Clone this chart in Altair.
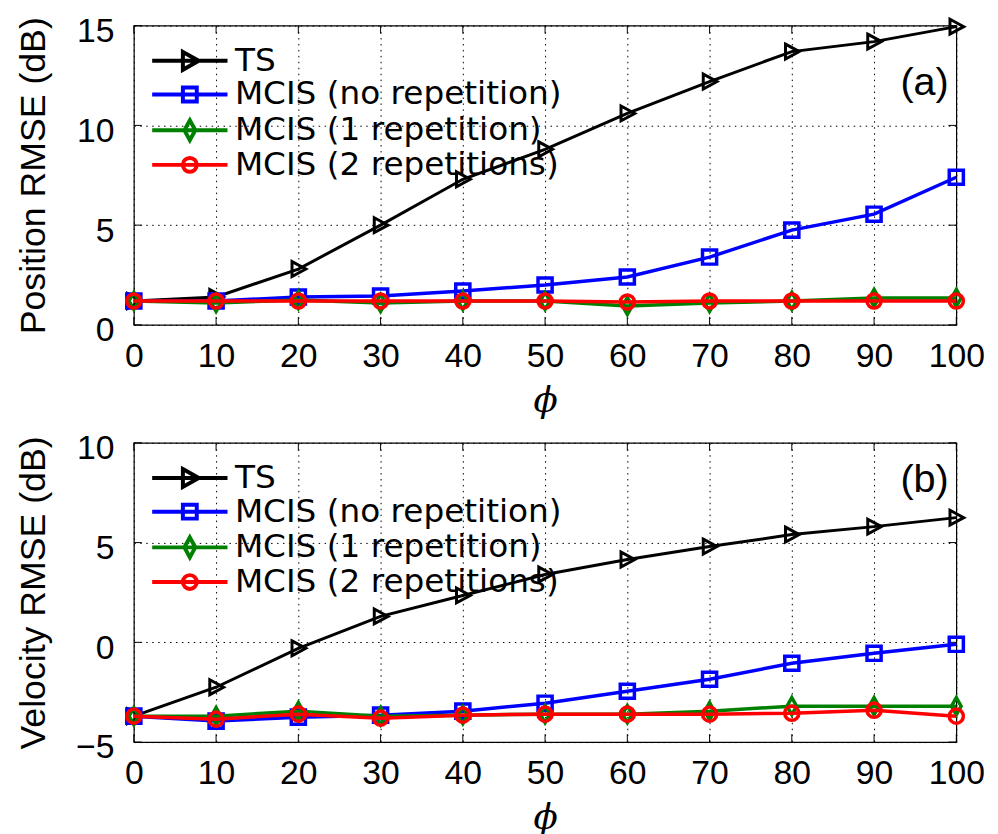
import altair as alt
import pandas as pd

# ---------------- data ----------------
phi = [0, 10, 20, 30, 40, 50, 60, 70, 80, 90, 100]
series = ["TS", "MCIS (no repetition)", "MCIS (1 repetition)", "MCIS (2 repetitions)"]
colors = ["#000000", "#0000ff", "#008000", "#ff0000"]

pos_ts = [1.2, 1.4, 2.8, 5.0, 7.3, 8.8, 10.6, 12.2, 13.7, 14.2, 14.95]
pos_no = [1.2, 1.2, 1.4, 1.45, 1.7, 2.0, 2.4, 3.4, 4.75, 5.55, 7.4]
pos_1 = [1.2, 1.1, 1.25, 1.1, 1.2, 1.2, 0.95, 1.1, 1.2, 1.35, 1.35]
pos_2 = [1.2, 1.2, 1.2, 1.2, 1.2, 1.2, 1.15, 1.2, 1.2, 1.2, 1.2]

vel_ts = [-3.7, -2.25, -0.3, 1.3, 2.35, 3.4, 4.15, 4.8, 5.4, 5.8, 6.25]
vel_no = [-3.7, -3.95, -3.75, -3.65, -3.45, -3.05, -2.45, -1.85, -1.05, -0.55, -0.1]
vel_1 = [-3.7, -3.7, -3.45, -3.7, -3.65, -3.6, -3.6, -3.45, -3.2, -3.2, -3.2]
vel_2 = [-3.7, -3.85, -3.6, -3.8, -3.65, -3.6, -3.6, -3.6, -3.55, -3.4, -3.7]

pos_yticks = [0, 5, 10, 15]
vel_yticks = [-5, 0, 5, 10]

# ---------------- styles ----------------
FONT = "Liberation Sans"
LEG_FONT = "DejaVu Sans"
W, H = 830, 302
marker_paths = [
    "M-0.85,-1L1,0L-0.85,1Z",
    "M-0.95,-0.95H0.95V0.95H-0.95Z",
    "M0,-1.15L0.65,0L0,1.15L-0.65,0Z",
    "M0.95,0A0.95,0.95,0,1,1,-0.95,0A0.95,0.95,0,1,1,0.95,0Z",
]
legend_paths = [
    "M-3.8,0H3.8M-0.7,-0.9L0.9,0L-0.7,0.9Z",
    "M-3.8,0H3.8M-0.7,-0.7H0.7V0.7H-0.7Z",
    "M-3.8,0H3.8M0,-1L0.55,0L0,1L-0.55,0Z",
    "M-3.8,0H3.8M0.7,0A0.7,0.7,0,1,1,-0.7,0A0.7,0.7,0,1,1,0.7,0Z",
]
line_widths = [3, 3.5, 3.5, 3.5]


def panel(values, ydom, yticks, ytitle, tag, tag_y, leg_y):
    df = pd.DataFrame({
        "phi": phi * len(series),
        "val": [v for vals in values for v in vals],
        "series": [s for s in series for _ in phi],
    })
    X = alt.X("phi:Q", scale=alt.Scale(domain=[0, 100], nice=False, zero=False),
              axis=alt.Axis(values=phi, title="ϕ", titleFont="DejaVu Serif",
                            titleFontStyle="italic", titleFontSize=36,
                            labelPadding=15, titlePadding=10, labelFlush=False,
                            labelOverlap=False))
    Y = alt.Y("val:Q", scale=alt.Scale(domain=ydom, nice=False, zero=False),
              axis=alt.Axis(values=yticks, title=ytitle, labelPadding=20,
                            labelOffset=6, minExtent=58, maxExtent=58,
                            titlePadding=24, labelFlush=False, labelOverlap=False))

    xt = pd.DataFrame({"phi": phi})
    yt = pd.DataFrame({"val": yticks})
    layers = [
        alt.Chart(xt).mark_rule(color="black", strokeWidth=1).encode(
            x=X, y=alt.value(H), y2=alt.value(H - 8)),
        alt.Chart(xt).mark_rule(color="black", strokeWidth=1).encode(
            x=X, y=alt.value(0), y2=alt.value(8)),
        alt.Chart(yt).mark_rule(color="black", strokeWidth=1).encode(
            y=Y, x=alt.value(0), x2=alt.value(8)),
        alt.Chart(yt).mark_rule(color="black", strokeWidth=1).encode(
            y=Y, x=alt.value(W - 8), x2=alt.value(W)),
    ]
    for s, c, p, sw in zip(series, colors, marker_paths, line_widths):
        sub = alt.Chart(df[df["series"] == s])
        layers.append(sub.mark_line(color=c, strokeWidth=sw).encode(x=X, y=Y))
        layers.append(sub.mark_point(shape=p, color=c, filled=False, size=225,
                                     strokeWidth=sw, opacity=1).encode(x=X, y=Y))

    leg = alt.Legend(title=None, orient="none", legendX=40, legendY=leg_y,
                     labelFont=LEG_FONT, labelFontSize=33, labelColor="black",
                     labelLimit=0, symbolSize=400, symbolStrokeWidth=4,
                     labelOffset=29, rowPadding=0, padding=0)
    layers.append(
        alt.Chart(df).mark_point(filled=False, opacity=1, strokeWidth=4, size=400)
        .encode(color=alt.Color("series:N", scale=alt.Scale(domain=series, range=colors), legend=leg),
                shape=alt.Shape("series:N", scale=alt.Scale(domain=series, range=legend_paths), legend=leg))
        .transform_filter("false")
    )
    layers.append(
        alt.Chart(pd.DataFrame({"tag": [tag]})).mark_text(
            font=FONT, fontSize=40, color="black").encode(
            text="tag:N", x=alt.value(798), y=alt.value(tag_y))
    )
    return alt.layer(*layers).properties(width=W, height=H)


top = panel([pos_ts, pos_no, pos_1, pos_2], [0, 15], pos_yticks,
            "Position RMSE (dB)", "(a)", 58, 19)
bottom = panel([vel_ts, vel_no, vel_1, vel_2], [-5, 10], vel_yticks,
               "Velocity RMSE (dB)", "(b)", 38, 19)

chart = (
    alt.vconcat(top, bottom, spacing=12)
    .resolve_scale(color="independent", shape="independent")
    .properties(padding={"left": 7, "top": 0, "right": 5, "bottom": 0})
    .configure_view(stroke="black", strokeWidth=1.2)
    .configure_axis(labelFont=FONT, labelFontSize=34, labelColor="black",
                    titleFont=FONT, titleFontSize=36, titleFontWeight="normal",
                    titleColor="black", grid=True, gridColor="black",
                    gridDash=[1.5, 4.5], gridWidth=1, gridOpacity=1,
                    ticks=False, tickSize=0, domain=False)
)

chart.save("out.html", embed_options={"renderer": "svg", "actions": False})
